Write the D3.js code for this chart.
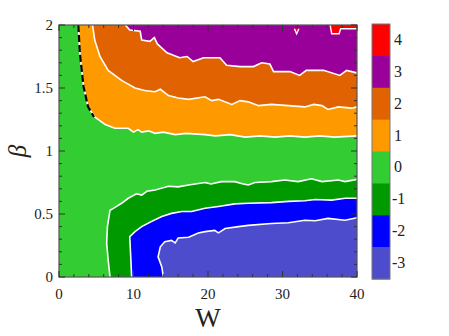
<!DOCTYPE html>
<html><head><meta charset="utf-8">
<script src="https://cdn.jsdelivr.net/npm/d3@7"></script>
<style>body{margin:0;background:#fff}svg{display:block}</style>
</head><body>
<script>
// ---- data (W, beta) boundary curves ----
const levels = [4, 3, 2, 1, 0, -1, -2, -3];
const levelColors = ["#ff0000", "#990099", "#e06200", "#ff9900", "#33cc33", "#009900", "#0000ff", "#4c4ccc"];
const xTicks = [0, 10, 20, 30, 40];
const yTicks = [0, 0.5, 1, 1.5, 2];

const b01 = [[2.6,2.0],[2.8,1.775],[3.3,1.51],[3.9,1.35],[4.8,1.27],[6.2,1.21],[7.5,1.18],[9.3,1.18],[10.0,1.15],[10.6,1.17],[11.1,1.15],[12.0,1.16],[12.9,1.14],[14.0,1.15],[15.6,1.13],[17.0,1.14],[19.6,1.13],[21.0,1.12],[23.0,1.13],[25.0,1.11],[27.0,1.12],[29.0,1.11],[31.0,1.12],[33.0,1.11],[35.0,1.12],[37.0,1.11],[40.0,1.12]];
const dashed01 = [[2.6,2.0],[2.8,1.775],[3.3,1.51],[3.9,1.35],[4.7,1.27]];
const b12 = [[4.5,2.0],[4.8,1.88],[5.5,1.75],[6.6,1.64],[8.4,1.56],[10.2,1.50],[11.5,1.48],[12.9,1.47],[13.6,1.49],[14.7,1.44],[16.0,1.42],[17.4,1.41],[19.6,1.43],[20.5,1.40],[21.4,1.41],[23.2,1.37],[24.3,1.40],[25.4,1.39],[26.8,1.36],[28.5,1.37],[30.8,1.36],[33.0,1.35],[34.2,1.37],[35.3,1.36],[36.1,1.33],[37.5,1.35],[39.3,1.34],[40.0,1.35]];
const b23 = [[8.9,2.0],[9.5,1.96],[10.9,1.95],[11.1,1.88],[12.2,1.87],[12.8,1.90],[13.2,1.85],[14.5,1.78],[16.2,1.74],[17.2,1.75],[18.0,1.71],[19.4,1.74],[21.6,1.74],[22.5,1.68],[24.3,1.67],[26.1,1.67],[27.2,1.70],[28.3,1.69],[28.8,1.63],[31.0,1.63],[32.3,1.60],[33.2,1.64],[35.5,1.64],[37.7,1.60],[38.6,1.64],[40.0,1.62]];
const b34 = [[36.4,2.0],[36.6,1.93],[37.6,1.93],[37.8,1.97],[40.0,1.97],[40.0,2.0]];
const b34b = [[31.6,1.97],[31.9,1.93],[32.2,1.97]];
const b0m1 = [[6.85,0.0],[6.6,0.135],[6.4,0.27],[6.5,0.40],[6.85,0.53],[7.3,0.545],[8.4,0.585],[9.3,0.625],[10.4,0.66],[11.1,0.65],[11.8,0.68],[12.9,0.69],[14.7,0.72],[16.0,0.715],[17.4,0.73],[19.6,0.75],[20.4,0.738],[21.8,0.757],[23.6,0.757],[24.6,0.74],[25.4,0.73],[26.3,0.75],[28.5,0.757],[30.3,0.77],[32.1,0.757],[33.9,0.78],[35.3,0.757],[37.5,0.77],[38.4,0.757],[40.0,0.775]];
const bm1m2 = [[9.75,0.0],[9.65,0.135],[9.5,0.32],[10.2,0.36],[11.1,0.40],[12.4,0.44],[13.8,0.48],[15.1,0.505],[16.5,0.52],[17.8,0.52],[19.6,0.545],[21.4,0.56],[23.6,0.58],[25.4,0.585],[28.5,0.59],[30.8,0.60],[33.0,0.605],[34.4,0.615],[36.6,0.61],[38.4,0.625],[40.0,0.625]];
const bm2m3 = [[14.0,0.0],[13.8,0.08],[13.3,0.16],[13.6,0.24],[14.2,0.28],[15.1,0.29],[15.6,0.27],[16.0,0.31],[17.4,0.315],[18.7,0.35],[19.6,0.36],[20.9,0.37],[21.4,0.35],[22.3,0.385],[24.1,0.40],[25.4,0.41],[28.5,0.425],[30.8,0.43],[33.0,0.45],[34.4,0.447],[36.1,0.465],[38.4,0.45],[40.0,0.47]];

// ---- layout ----
const W = 449, H = 336;
const m = {l: 59, t: 25, r: 357, b: 277};
const svg = d3.select("body").append("svg").attr("width", W).attr("height", H);
const x = d3.scaleLinear().domain([0, 40]).range([m.l, m.r]);
const y = d3.scaleLinear().domain([0, 2]).range([m.b, m.t]);
const col = d3.scaleOrdinal().domain(levels).range(levelColors);
const line = d3.line().x(d => x(d[0])).y(d => y(d[1]));
const font = "'Liberation Serif','Times New Roman',serif";

const g = svg.append("g");
g.append("defs").append("clipPath").attr("id", "clip").append("rect")
  .attr("x", m.l).attr("y", m.t).attr("width", m.r - m.l).attr("height", m.b - m.t);
const plot = g.append("g").attr("clip-path", "url(#clip)");

plot.append("rect").attr("x", m.l).attr("y", m.t).attr("width", m.r - m.l).attr("height", m.b - m.t).attr("fill", col(0));
// upper regions closed to the top-right corner
[[b01, 1], [b12, 2], [b23, 3]].forEach(([b, lv]) => {
  plot.append("path").attr("d", line(b.concat([[40, 2]])) + "Z").attr("fill", col(lv));
});
[b34, b34b].forEach(b => plot.append("path").attr("d", line(b) + "Z").attr("fill", col(4)));
// lower regions closed to the bottom-right corner
[[b0m1, -1], [bm1m2, -2], [bm2m3, -3]].forEach(([b, lv]) => {
  plot.append("path").attr("d", line(b.concat([[40, 0]])) + "Z").attr("fill", col(lv));
});
// contour lines
[b01, b12, b23, b0m1, bm1m2, bm2m3].forEach(b => {
  plot.append("path").attr("d", line(b)).attr("fill", "none").attr("stroke", "#fff").attr("stroke-width", 1.6);
});
[b34, b34b].forEach(b => plot.append("path").attr("d", line(b.slice(0, b.length - (b === b34 ? 1 : 0)))).attr("fill", "none").attr("stroke", "#fff").attr("stroke-width", 1.4));
plot.append("path").attr("d", line(dashed01)).attr("fill", "none").attr("stroke", "#000")
  .attr("stroke-width", 2.2).attr("stroke-dasharray", "7,3");

// frame
g.append("rect").attr("x", m.l).attr("y", m.t).attr("width", m.r - m.l).attr("height", m.b - m.t)
  .attr("fill", "none").attr("stroke", "#555").attr("stroke-width", 1.2);

// ticks (inside, mirrored)
const tk = g.append("g").attr("stroke", "#333").attr("stroke-width", 1);
d3.range(0, 40.001, 2).forEach(v => {
  const len = v % 10 === 0 ? 6 : 3;
  tk.append("line").attr("x1", x(v)).attr("x2", x(v)).attr("y1", m.b).attr("y2", m.b - len);
  tk.append("line").attr("x1", x(v)).attr("x2", x(v)).attr("y1", m.t).attr("y2", m.t + len);
});
d3.range(0, 20.001, 1).forEach(i => {
  const v = i / 10, len = i % 5 === 0 ? 6 : 3;
  tk.append("line").attr("y1", y(v)).attr("y2", y(v)).attr("x1", m.l).attr("x2", m.l + len);
  tk.append("line").attr("y1", y(v)).attr("y2", y(v)).attr("x1", m.r).attr("x2", m.r - len);
});

// tick labels
g.selectAll(".xl").data(xTicks).join("text").attr("x", d => x(d)).attr("y", 299)
  .attr("text-anchor", "middle").attr("font-family", font).attr("font-size", 15).attr("fill", "#222").text(d => d);
g.selectAll(".yl").data(yTicks).join("text").attr("x", 53).attr("y", d => y(d) + 5)
  .attr("text-anchor", "end").attr("font-family", font).attr("font-size", 15).attr("fill", "#222").text(d => d);

// axis titles
g.append("text").attr("x", 208).attr("y", 327).attr("text-anchor", "middle").attr("font-family", font)
  .attr("font-size", 27).attr("fill", "#222").text("W");
g.append("text").attr("transform", "translate(26,151) rotate(-90)").attr("text-anchor", "middle")
  .attr("font-family", font).attr("font-style", "italic").attr("font-size", 25).attr("fill", "#222").text("β");

// colour bar
const cb = {x: 372, w: 18, t: 24, b: 279};
const cy = d3.scaleBand().domain(levels).range([cb.t, cb.b]).padding(0);
g.selectAll(".cb").data(levels).join("rect").attr("x", cb.x).attr("y", d => cy(d))
  .attr("width", cb.w).attr("height", cy.bandwidth() + 0.5).attr("fill", d => col(d));
g.append("rect").attr("x", cb.x).attr("y", cb.t).attr("width", cb.w).attr("height", cb.b - cb.t)
  .attr("fill", "none").attr("stroke", "#777").attr("stroke-width", 1);
g.selectAll(".cbl").data(levels).join("text").attr("x", d => d < 0 ? 392 : 394)
  .attr("y", d => cy(d) + cy.bandwidth() / 2 + 5).attr("font-family", font).attr("font-size", 16)
  .attr("fill", "#222").text(d => d);
</script>
</body></html>
